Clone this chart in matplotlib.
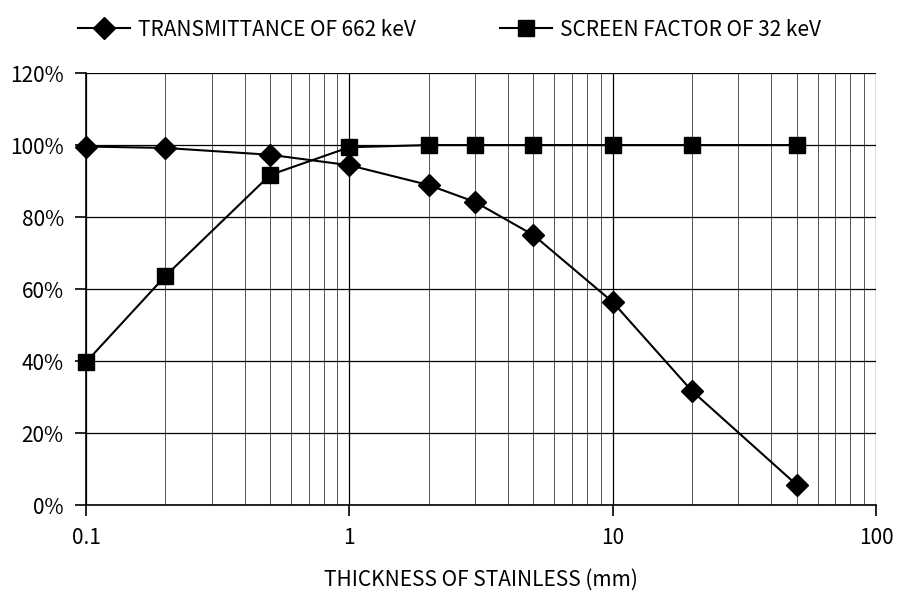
import matplotlib.pyplot as plt
from matplotlib.ticker import FixedLocator, FuncFormatter, LogLocator, NullFormatter

plt.rcParams['font.family'] = ['Noto Sans CJK JP', 'DejaVu Sans']

thickness = [0.1, 0.2, 0.5, 1, 2, 3, 5, 10, 20, 50]
transmittance = [99.6, 99.2, 97.3, 94.4, 88.9, 84.2, 75.0, 56.4, 31.7, 5.6]
screen_factor = [39.7, 63.6, 91.7, 99.4, 100, 100, 100, 100, 100, 100]

fig = plt.figure(figsize=(8.99, 5.99), dpi=100)
ax = fig.add_axes([0.0957, 0.1569, 0.8787, 0.7211])

ax.plot(thickness, transmittance, color='black', lw=1.5, marker='D', ms=11,
        clip_on=False, zorder=3, label='TRANSMITTANCE OF 662 keV')
ax.plot(thickness, screen_factor, color='black', lw=1.5, marker='s', ms=12,
        clip_on=False, zorder=3, label='SCREEN FACTOR OF 32 keV')

ax.set_xscale('log')
ax.set_xlim(0.1, 100)
ax.set_ylim(0, 120)
ax.yaxis.set_major_locator(FixedLocator(range(0, 121, 20)))
ax.yaxis.set_major_formatter(FuncFormatter(lambda v, p: f'{int(v)}%'))
ax.xaxis.set_major_locator(FixedLocator([0.1, 1, 10, 100]))
ax.xaxis.set_major_formatter(FuncFormatter(lambda v, p: f'{v:g}'))
ax.xaxis.set_minor_locator(LogLocator(base=10, subs=range(2, 10)))
ax.xaxis.set_minor_formatter(NullFormatter())

ax.grid(True, which='major', color='black', lw=0.9)
ax.grid(True, which='minor', axis='x', color='#555555', lw=0.7)
ax.set_axisbelow(True)

for s in ['top', 'right']:
    ax.spines[s].set_visible(False)
ax.spines['left'].set_linewidth(1.2)
ax.spines['bottom'].set_linewidth(1.2)
ax.tick_params(axis='both', which='major', direction='out', length=8, width=1.2,
               labelsize=15, pad=8)
ax.tick_params(axis='x', which='minor', length=0)

ax.set_xlabel('THICKNESS OF STAINLESS (mm)', fontsize=15, labelpad=14)

fig.legend(loc='upper center', bbox_to_anchor=(0.5, 1.0), ncol=2, frameon=False,
           fontsize=15, handlelength=2.5, columnspacing=4, handletextpad=0.4)

fig.savefig('out.png', dpi=100)
